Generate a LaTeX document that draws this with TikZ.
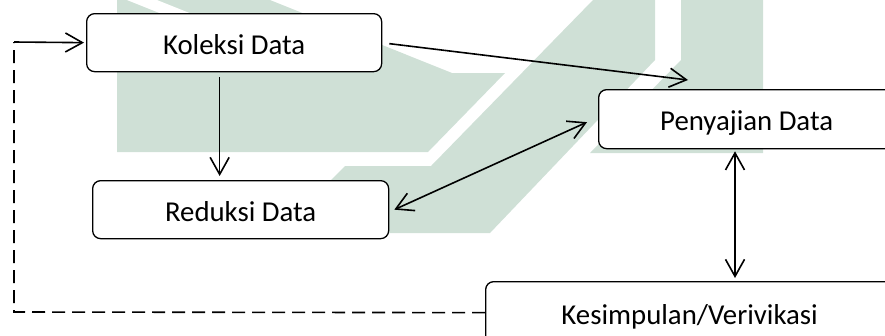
\documentclass[tikz,border=0pt]{standalone}
\usepackage{fontspec}
\setmainfont{Carlito}
\usetikzlibrary{arrows.meta}
\definecolor{wm}{RGB}{207,224,214}
\begin{document}
\begin{tikzpicture}[x=1pt,y=-1pt,
  box/.style={draw, line width=1.3pt, rounded corners=8pt, fill=white,
    font=\fontsize{28.8}{34}\selectfont, text height=23pt, text depth=0pt,
    inner sep=0pt, anchor=north west},
  tipb/.tip={Straight Barb[length=17pt,width=19pt]},
  arr/.style={line width=1.6pt, -tipb},
  darr/.style={line width=1.6pt, tipb-tipb},
  dash line/.style={line width=1.6pt, dash pattern=on 13pt off 7pt}]
\useasboundingbox (0,0) rectangle (885,335);
\clip (0,0) rectangle (885,335);
% watermark
\fill[wm] (117,0) -- (270,0) -- (452,73) -- (505,73) -- (428,152) -- (117,152) -- cycle;
\fill[white] (127,0) -- (157,0) -- (307,60) -- (277,60) -- cycle;
\fill[wm] (593,0) -- (655,0) -- (655,60) -- (490,233) -- (327,233) -- (327,184) -- (345,166) -- (431,166) -- cycle;
\fill[wm] (681,0) -- (763,0) -- (763,153) -- (590,153) -- (681,60) -- cycle;
% boxes
\node[box, minimum width=295pt, minimum height=58pt] (kol) at (86,13) {Koleksi Data};
\node[box, minimum width=296pt, minimum height=58pt] (red) at (92,180) {Reduksi Data};
\node[box, minimum width=296pt, minimum height=59pt] (pen) at (598,89) {Penyajian Data};
\node[box, minimum width=408pt, minimum height=62pt] (kes) at (485,281) {Kesimpulan/Verivikasi};
% connectors
\coordinate (c1) at (14,312);
\coordinate (c2) at (14,42);
\draw[dash line] (kes.west) -- (c1) -- (c2);
\draw[arr] (c2) -- ([xshift=-2pt]kol.west);
\draw[arr] ([shift={(-14.5,5)}]kol.south) -- ([shift={(-21,-4)}]red.north);
\draw[arr] ([shift={(7,1)}]kol.east) -- ([shift={(90,-9)}]pen.north west);
\draw[darr] ([shift={(5,0)}]red.east) -- ([shift={(-11,3)}]pen.west);
\draw[darr] ([shift={(137,2)}]pen.south west) -- ([shift={(250,-3)}]kes.north west);
\end{tikzpicture}
\end{document}
